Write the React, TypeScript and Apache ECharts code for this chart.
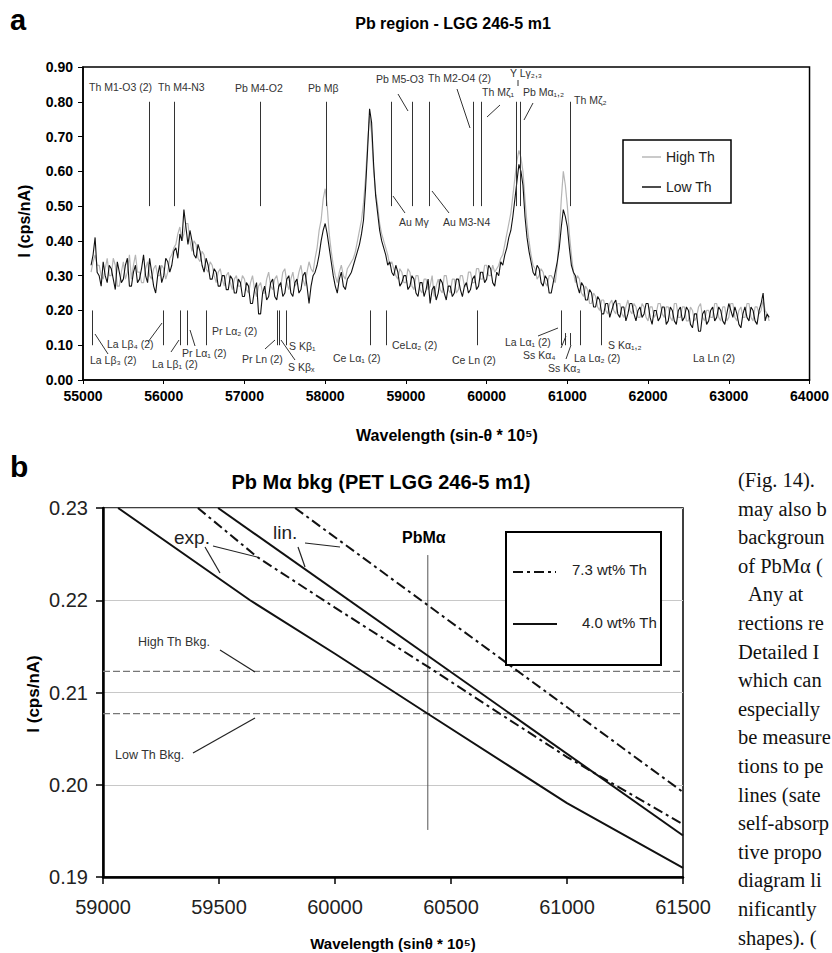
import React, { useEffect, useRef } from "react";
import * as echarts from "echarts";

const SANS = "'Liberation Sans', Arial, Helvetica, sans-serif";
const SERIF = "'Liberation Serif', 'Times New Roman', serif";

// ---------- Panel a: Pb region spectra ----------
const WL_START = 55100;
const WL_STEP = 25;

const HIGH_TH = [
  0.31, 0.34, 0.36, 0.33, 0.33, 0.30, 0.29, 0.32, 0.35, 0.30,
  0.30, 0.35, 0.33, 0.27, 0.27, 0.31, 0.34, 0.29, 0.31, 0.36,
  0.29, 0.33, 0.36, 0.31, 0.31, 0.28, 0.28, 0.32, 0.34, 0.30,
  0.29, 0.32, 0.33, 0.30, 0.30, 0.33, 0.32, 0.29, 0.31, 0.35,
  0.36, 0.38, 0.39, 0.42, 0.44, 0.40, 0.42, 0.45, 0.45, 0.40,
  0.37, 0.40, 0.39, 0.35, 0.34, 0.37, 0.36, 0.32, 0.31, 0.34,
  0.33, 0.30, 0.28, 0.31, 0.32, 0.29, 0.27, 0.30, 0.31, 0.28,
  0.26, 0.29, 0.30, 0.27, 0.27, 0.30, 0.29, 0.26, 0.25, 0.28,
  0.30, 0.26, 0.24, 0.27, 0.28, 0.25, 0.25, 0.29, 0.31, 0.27,
  0.26, 0.29, 0.30, 0.27, 0.27, 0.31, 0.32, 0.28, 0.26, 0.29,
  0.31, 0.27, 0.28, 0.31, 0.33, 0.29, 0.27, 0.31, 0.34, 0.32,
  0.31, 0.35, 0.38, 0.43, 0.46, 0.52, 0.55, 0.50, 0.42, 0.37,
  0.33, 0.30, 0.28, 0.31, 0.33, 0.30, 0.29, 0.32, 0.33, 0.34,
  0.35, 0.37, 0.40, 0.43, 0.46, 0.51, 0.58, 0.68, 0.76, 0.71,
  0.60, 0.54, 0.50, 0.45, 0.42, 0.40, 0.38, 0.36, 0.33, 0.34,
  0.32, 0.30, 0.29, 0.32, 0.31, 0.28, 0.28, 0.32, 0.31, 0.27,
  0.26, 0.30, 0.30, 0.26, 0.25, 0.29, 0.29, 0.26, 0.27, 0.30,
  0.24, 0.27, 0.29, 0.26, 0.25, 0.30, 0.30, 0.26, 0.25, 0.29,
  0.29, 0.25, 0.26, 0.30, 0.30, 0.27, 0.27, 0.31, 0.31, 0.28,
  0.28, 0.32, 0.32, 0.29, 0.29, 0.33, 0.33, 0.30, 0.30, 0.33,
  0.31, 0.32, 0.33, 0.35, 0.36, 0.39, 0.42, 0.45, 0.48, 0.53,
  0.58, 0.63, 0.66, 0.64, 0.60, 0.52, 0.45, 0.40, 0.36, 0.33,
  0.32, 0.29, 0.30, 0.32, 0.31, 0.28, 0.27, 0.30, 0.30, 0.29,
  0.28, 0.33, 0.42, 0.52, 0.60, 0.56, 0.50, 0.42, 0.36, 0.31,
  0.28, 0.30, 0.29, 0.25, 0.24, 0.27, 0.26, 0.22, 0.22, 0.25,
  0.24, 0.21, 0.20, 0.23, 0.23, 0.20, 0.19, 0.22, 0.23, 0.20,
  0.19, 0.22, 0.22, 0.19, 0.18, 0.21, 0.23, 0.20, 0.19, 0.22,
  0.21, 0.18, 0.18, 0.22, 0.21, 0.18, 0.17, 0.21, 0.21, 0.18,
  0.19, 0.22, 0.22, 0.19, 0.18, 0.21, 0.21, 0.18, 0.17, 0.22,
  0.22, 0.18, 0.18, 0.21, 0.21, 0.17, 0.17, 0.21, 0.20, 0.17,
  0.18, 0.21, 0.22, 0.18, 0.17, 0.20, 0.20, 0.18, 0.18, 0.22,
  0.22, 0.18, 0.17, 0.21, 0.21, 0.17, 0.18, 0.22, 0.22, 0.18,
  0.17, 0.20, 0.21, 0.18, 0.18, 0.22, 0.22, 0.18, 0.17, 0.21,
  0.21, 0.19, 0.20, 0.23, 0.20, 0.19, 0.17,
];

const LOW_TH = [
  0.33, 0.36, 0.41, 0.31, 0.30, 0.27, 0.34, 0.30, 0.28, 0.33,
  0.32, 0.29, 0.26, 0.34, 0.31, 0.28, 0.29, 0.33, 0.35, 0.27,
  0.27, 0.31, 0.33, 0.28, 0.29, 0.32, 0.36, 0.30, 0.28, 0.35,
  0.31, 0.27, 0.25, 0.30, 0.33, 0.28, 0.30, 0.35, 0.34, 0.31,
  0.33, 0.37, 0.38, 0.35, 0.42, 0.40, 0.49, 0.44, 0.39, 0.43,
  0.40, 0.36, 0.35, 0.39, 0.37, 0.33, 0.31, 0.35, 0.33, 0.29,
  0.29, 0.32, 0.31, 0.27, 0.27, 0.30, 0.30, 0.26, 0.26, 0.30,
  0.29, 0.25, 0.25, 0.29, 0.28, 0.24, 0.24, 0.28, 0.27, 0.22,
  0.22, 0.26, 0.28, 0.19, 0.19, 0.25, 0.27, 0.23, 0.24, 0.28,
  0.29, 0.24, 0.23, 0.27, 0.28, 0.24, 0.25, 0.29, 0.30, 0.25,
  0.24, 0.28, 0.29, 0.25, 0.26, 0.30, 0.31, 0.27, 0.22, 0.27,
  0.30, 0.31, 0.33, 0.36, 0.40, 0.43, 0.45, 0.42, 0.38, 0.34,
  0.30, 0.27, 0.25, 0.29, 0.31, 0.27, 0.26, 0.29, 0.30, 0.31,
  0.33, 0.35, 0.37, 0.39, 0.42, 0.46, 0.55, 0.66, 0.78, 0.74,
  0.62, 0.53, 0.48, 0.43, 0.40, 0.38, 0.36, 0.33, 0.34, 0.31,
  0.30, 0.33, 0.31, 0.27, 0.28, 0.30, 0.30, 0.26, 0.27, 0.30,
  0.29, 0.25, 0.24, 0.28, 0.28, 0.24, 0.26, 0.29, 0.22, 0.26,
  0.27, 0.23, 0.25, 0.29, 0.28, 0.25, 0.23, 0.27, 0.27, 0.24,
  0.25, 0.29, 0.29, 0.26, 0.24, 0.27, 0.28, 0.25, 0.26, 0.29,
  0.30, 0.26, 0.27, 0.31, 0.31, 0.28, 0.29, 0.33, 0.32, 0.28,
  0.27, 0.31, 0.30, 0.34, 0.33, 0.36, 0.38, 0.41, 0.43, 0.47,
  0.52, 0.57, 0.62, 0.60, 0.56, 0.47, 0.41, 0.37, 0.34, 0.31,
  0.30, 0.33, 0.32, 0.28, 0.27, 0.30, 0.29, 0.25, 0.25, 0.28,
  0.31, 0.34, 0.38, 0.44, 0.49, 0.47, 0.44, 0.38, 0.33, 0.31,
  0.30, 0.27, 0.25, 0.28, 0.27, 0.23, 0.23, 0.26, 0.25, 0.21,
  0.21, 0.24, 0.23, 0.19, 0.19, 0.22, 0.22, 0.18, 0.20, 0.22,
  0.23, 0.19, 0.18, 0.21, 0.21, 0.17, 0.19, 0.22, 0.22, 0.19,
  0.17, 0.20, 0.21, 0.18, 0.19, 0.22, 0.22, 0.18, 0.16, 0.20,
  0.20, 0.17, 0.18, 0.21, 0.21, 0.16, 0.17, 0.21, 0.20, 0.17,
  0.16, 0.20, 0.21, 0.17, 0.18, 0.21, 0.20, 0.16, 0.15, 0.19,
  0.19, 0.14, 0.14, 0.19, 0.20, 0.16, 0.17, 0.20, 0.21, 0.17,
  0.18, 0.21, 0.20, 0.17, 0.16, 0.19, 0.22, 0.20, 0.18, 0.21,
  0.19, 0.16, 0.15, 0.19, 0.21, 0.18, 0.17, 0.21, 0.20, 0.17,
  0.16, 0.20, 0.22, 0.25, 0.17, 0.19, 0.18,
];

// line markers (wavelengths)
const UPPER_MARKERS = [55815, 56136, 57197, 58012, 58815, 59074, 59284, 59840, 59938, 60370, 60420, 61037];
const UPPER_RANGE = [0.5, 0.8];
const LOWER_MARKERS = [55111, 55988, 56210, 56296, 56530, 57407, 57430, 57518, 58555, 58753, 59889, 60926, 61160, 61420];
const LOWER_RANGE = [0.1, 0.2];
const SHORT_MARKERS = [60975, 61037];
const SHORT_RANGE = [0.1, 0.135];

const A_X_TICKS = { min: 55000, max: 64000, interval: 1000 };
const A_Y_TICKS = { min: 0, max: 0.9, interval: 0.1 };

// ---------- Panel b: Pb Ma background ----------
const EXP_40 = [[59065, 0.23], [59634, 0.22], [60000, 0.2142], [60400, 0.2077], [61000, 0.198], [61500, 0.191]];
const LIN_40 = [[59496, 0.23], [61500, 0.1945]];
const EXP_73 = [[59409, 0.23], [59664, 0.2247], [60000, 0.2192], [60400, 0.2128], [60711, 0.2077], [61000, 0.203], [61500, 0.1957]];
const LIN_73 = [[59828, 0.23], [61500, 0.1992]];
const BKG_HIGH = 0.2123;
const BKG_LOW = 0.2077;
const PBMA_POS = 60400;
const PBMA_RANGE = [0.1951, 0.2249];
const B_X_TICKS = { min: 59000, max: 61500, interval: 500 };
const B_Y_TICKS = { min: 0.19, max: 0.23, interval: 0.01 };

// ---------- annotation layout (text, x, y) ----------
const A_UPPER_LABELS: [string, number, number][] = [
  ["Th M1-O3 (2)", 89, 87],
  ["Th M4-N3", 158, 87],
  ["Pb M4-O2", 235, 88],
  ["Pb Mβ", 308, 88],
  ["Pb M5-O3", 376, 79],
  ["Th M2-O4 (2)", 428, 78],
  ["Y Lγ₂,₃", 510, 73],
  ["Th Mζ₁", 482, 92],
  ["Pb Mα₁,₂", 523, 92],
  ["Th Mζ₂", 574, 100],
  ["Au Mγ", 399, 222],
  ["Au M3-N4", 443, 222],
];
const A_LOWER_LABELS: [string, number, number][] = [
  ["La Lβ₃ (2)", 90, 360],
  ["La Lβ₄ (2)", 107, 344],
  ["La Lβ₁ (2)", 152, 364],
  ["Pr Lα₁ (2)", 182, 353],
  ["Pr Lα₂ (2)", 212, 331],
  ["Pr Ln (2)", 242, 359],
  ["S Kβ₁", 289, 346],
  ["S Kβₓ", 288, 367],
  ["Ce Lα₁ (2)", 333, 358],
  ["CeLα₂ (2)", 392, 345],
  ["Ce Ln (2)", 452, 360],
  ["La Lα₁ (2)", 505, 342],
  ["Ss Kα₄", 523, 355],
  ["Ss Kα₃", 548, 368],
  ["La Lα₂ (2)", 574, 358],
  ["S Kα₁,₂", 608, 345],
  ["La Ln (2)", 693, 358],
];
const A_LEADERS: number[][] = [
  [398, 94, 408, 111],
  [457, 89, 470, 128],
  [500, 105, 487, 117],
  [533, 103, 524, 120],
  [518, 80, 518, 86],
  [405, 213, 393, 196],
  [449, 213, 432, 191],
  [108, 354, 95, 334],
  [148, 342, 162, 323],
  [171, 352, 179, 340],
  [195, 346, 190, 330],
  [265, 349, 275, 340],
  [295, 360, 281, 340],
  [538, 336, 558, 328],
  [561, 348, 566, 336],
  [566, 359, 571, 345],
];
const B_LEADERS: number[][] = [
  [205, 547, 220, 573],
  [213, 546, 257, 557],
  [298, 547, 305, 567],
  [305, 543, 340, 547],
  [220, 650, 255, 672],
  [193, 753, 255, 718],
];
const BODY_LINES: [string, number][] = [
  ["(Fig. 14).", 0],
  ["may also b", 0],
  ["backgroun", 0],
  ["of PbMα (", 0],
  ["Any at", 10],
  ["rections re", 0],
  ["Detailed I", 0],
  ["which can", 0],
  ["especially", 0],
  ["be measure", 0],
  ["tions to pe", 0],
  ["lines (sate", 0],
  ["self-absorp", 0],
  ["tive propo", 0],
  ["diagram li", 0],
  ["nificantly", 0],
  ["shapes). (", 0],
];

function txt(x: number, y: number, t: string, size: number, extra: any = {}) {
  const align = extra.align || "left";
  return {
    type: "text",
    x,
    y,
    z: 100,
    silent: true,
    rotation: extra.rotation || 0,
    style: {
      text: t,
      fill: extra.fill || "#1a1a1a",
      fontSize: size,
      fontFamily: extra.fontFamily || SANS,
      fontWeight: extra.fontWeight || "normal",
      fontStyle: extra.fontStyle || "normal",
      align,
      textAlign: align,
      verticalAlign: "middle",
      textVerticalAlign: "middle",
    },
  };
}
function seg(p: number[], stroke = "#222", w = 1, dash?: number[]) {
  return {
    type: "line",
    z: 100,
    silent: true,
    shape: { x1: p[0], y1: p[1], x2: p[2], y2: p[3] },
    style: { stroke, lineWidth: w, lineDash: dash || null },
  };
}

export default function App() {
  const ref = useRef<HTMLDivElement>(null);
  useEffect(() => {
    document.body.style.margin = "0";
    if (!ref.current) return;
    const chart = echarts.init(ref.current, undefined, { renderer: "svg" });

    const spectrum = (vals: number[]) => vals.map((v, i) => [WL_START + i * WL_STEP, v]);
    const markerLines = (xs: number[], r: number[]) => xs.map((x) => ({ coords: [[x, r[1]], [x, r[0]]] }));

    const graphics: any[] = [];
    graphics.push(txt(10, 20, "a", 29, { fontWeight: "bold", fill: "#000" }));
    graphics.push(txt(10, 466, "b", 30, { fontWeight: "bold", fill: "#000" }));
    graphics.push(txt(453, 23, "Pb region - LGG 246-5 m1", 16, { fontWeight: "bold", align: "center", fill: "#000" }));
    graphics.push(txt(447, 435, "Wavelength (sin-θ * 10⁵)", 16, { fontWeight: "bold", align: "center", fill: "#000" }));
    graphics.push(txt(24, 221, "I (cps/nA)", 16, { fontWeight: "bold", align: "center", fill: "#000", rotation: Math.PI / 2 }));
    A_UPPER_LABELS.forEach(([t, x, y]) => graphics.push(txt(x, y, t, 10.5, { fill: "#333" })));
    A_LOWER_LABELS.forEach(([t, x, y]) => graphics.push(txt(x, y, t, 10.5, { fill: "#333" })));
    A_LEADERS.forEach((p) => graphics.push(seg(p, "#333", 1)));
    // legend a
    graphics.push({ type: "rect", z: 100, silent: true, shape: { x: 623, y: 140, width: 108, height: 63 }, style: { fill: "#fff", stroke: "#000", lineWidth: 1.5 } });
    graphics.push(seg([642, 157, 661, 157], "#b8b8b8", 1.5));
    graphics.push(txt(666, 157, "High Th", 14, { fill: "#222" }));
    graphics.push(seg([642, 187, 661, 187], "#111", 1.5));
    graphics.push(txt(666, 187, "Low Th", 14, { fill: "#222" }));

    // panel b annotations
    graphics.push(txt(381, 482, "Pb Mα bkg (PET LGG 246-5 m1)", 20, { fontWeight: "bold", align: "center", fill: "#000" }));
    graphics.push(txt(393, 943, "Wavelength (sinθ * 10⁵)", 15, { fontWeight: "bold", align: "center", fill: "#000" }));
    graphics.push(txt(33, 694, "I (cps/nA)", 17, { fontWeight: "bold", align: "center", fill: "#000", rotation: Math.PI / 2 }));
    graphics.push(txt(174, 537, "exp.", 19, { fill: "#222" }));
    graphics.push(txt(273, 532, "lin.", 19, { fill: "#222" }));
    graphics.push(txt(138, 642, "High Th Bkg.", 12.5, { fill: "#333" }));
    graphics.push(txt(115, 755, "Low Th Bkg.", 12.5, { fill: "#333" }));
    graphics.push(txt(402, 537, "PbMα", 16, { fontWeight: "bold", fill: "#000" }));
    B_LEADERS.forEach((p) => graphics.push(seg(p, "#222", 1.2)));
    // legend b
    graphics.push({ type: "rect", z: 100, silent: true, shape: { x: 506, y: 532, width: 155, height: 133 }, style: { fill: "#fff", stroke: "#000", lineWidth: 2 } });
    graphics.push(seg([513, 572, 556, 572], "#111", 2, [10, 4, 3, 4]));
    graphics.push(txt(572, 569, "7.3 wt% Th", 15, { fill: "#222" }));
    graphics.push(seg([513, 624, 557, 624], "#111", 2));
    graphics.push(txt(582, 622, "4.0 wt% Th", 15, { fill: "#222" }));

    // body text column
    BODY_LINES.forEach(([t, indent], k) =>
      graphics.push(txt(738 + indent, 480 + 28.6 * k, t, 20.5, { fontFamily: SERIF, fill: "#111" }))
    );

    const plain = (v: number) => String(Math.round(v));

    const option: any = {
      animation: false,
      backgroundColor: "#fff",
      grid: [
        { left: 83, top: 67, width: 729, height: 313, show: true, borderColor: "#000", borderWidth: 1.5, backgroundColor: "transparent" },
        { left: 103, top: 508, width: 580, height: 369, show: true, borderColor: "#000", borderWidth: 1.5, backgroundColor: "transparent" },
      ],
      xAxis: [
        {
          gridIndex: 0, type: "value", ...A_X_TICKS,
          axisLine: { show: true, onZero: false, lineStyle: { color: "#000", width: 1.5 } },
          axisTick: { show: true, length: 4, lineStyle: { color: "#000", width: 1 } },
          axisLabel: { fontFamily: SANS, fontWeight: "bold", fontSize: 14, color: "#000", margin: 9, formatter: plain },
          splitLine: { show: false },
        },
        {
          gridIndex: 1, type: "value", ...B_X_TICKS,
          axisLine: { show: true, onZero: false, lineStyle: { color: "#000", width: 2.5 } },
          axisTick: { show: true, length: 7, lineStyle: { color: "#000", width: 1.5 } },
          axisLabel: { fontFamily: SANS, fontSize: 20, color: "#222", margin: 20, formatter: plain },
          splitLine: { show: false },
        },
      ],
      yAxis: [
        {
          gridIndex: 0, type: "value", ...A_Y_TICKS,
          axisLine: { show: true, onZero: false, lineStyle: { color: "#000", width: 1.5 } },
          axisTick: { show: true, length: 5, lineStyle: { color: "#000", width: 1 } },
          axisLabel: { fontFamily: SANS, fontWeight: "bold", fontSize: 14, color: "#000", margin: 10, formatter: (v: number) => v.toFixed(2) },
          splitLine: { show: false },
        },
        {
          gridIndex: 1, type: "value", ...B_Y_TICKS,
          axisLine: { show: true, onZero: false, lineStyle: { color: "#000", width: 2.5 } },
          axisTick: { show: true, length: 7, lineStyle: { color: "#000", width: 1.5 } },
          axisLabel: { fontFamily: SANS, fontSize: 20, color: "#222", margin: 15, formatter: (v: number) => v.toFixed(2) },
          splitLine: { show: true, lineStyle: { color: "#c8c8c8", width: 1 } },
        },
      ],
      series: [
        { name: "High Th", type: "line", xAxisIndex: 0, yAxisIndex: 0, data: spectrum(HIGH_TH), symbol: "none", showSymbol: false, lineStyle: { color: "#b5b5b5", width: 1.2 }, z: 2 },
        { name: "Low Th", type: "line", xAxisIndex: 0, yAxisIndex: 0, data: spectrum(LOW_TH), symbol: "none", showSymbol: false, lineStyle: { color: "#111", width: 1.1 }, z: 3 },
        {
          type: "lines", coordinateSystem: "cartesian2d", xAxisIndex: 0, yAxisIndex: 0, silent: true, z: 4,
          data: [...markerLines(UPPER_MARKERS, UPPER_RANGE), ...markerLines(LOWER_MARKERS, LOWER_RANGE), ...markerLines(SHORT_MARKERS, SHORT_RANGE)],
          lineStyle: { color: "#333", width: 1, opacity: 1 },
        },
        { type: "line", xAxisIndex: 1, yAxisIndex: 1, data: [[B_X_TICKS.min, BKG_HIGH], [B_X_TICKS.max, BKG_HIGH]], symbol: "none", lineStyle: { color: "#777", width: 1.2, type: [7, 3] }, z: 2 },
        { type: "line", xAxisIndex: 1, yAxisIndex: 1, data: [[B_X_TICKS.min, BKG_LOW], [B_X_TICKS.max, BKG_LOW]], symbol: "none", lineStyle: { color: "#777", width: 1.2, type: [7, 3] }, z: 2 },
        { type: "line", xAxisIndex: 1, yAxisIndex: 1, data: [[PBMA_POS, PBMA_RANGE[0]], [PBMA_POS, PBMA_RANGE[1]]], symbol: "none", lineStyle: { color: "#555", width: 1 }, z: 2 },
        { name: "4.0 wt% Th exp.", type: "line", xAxisIndex: 1, yAxisIndex: 1, data: EXP_40, symbol: "none", lineStyle: { color: "#111", width: 2 }, z: 3 },
        { name: "4.0 wt% Th lin.", type: "line", xAxisIndex: 1, yAxisIndex: 1, data: LIN_40, symbol: "none", lineStyle: { color: "#111", width: 2 }, z: 3 },
        { name: "7.3 wt% Th exp.", type: "line", xAxisIndex: 1, yAxisIndex: 1, data: EXP_73, symbol: "none", lineStyle: { color: "#111", width: 2, type: [10, 4, 3, 4] }, z: 3 },
        { name: "7.3 wt% Th lin.", type: "line", xAxisIndex: 1, yAxisIndex: 1, data: LIN_73, symbol: "none", lineStyle: { color: "#111", width: 2, type: [10, 4, 3, 4] }, z: 3 },
      ],
      graphic: { elements: graphics },
    };
    chart.setOption(option);
    return () => chart.dispose();
  }, []);
  return <div ref={ref} style={{ width: 832, height: 953, position: "absolute", left: 0, top: 0 }} />;
}
